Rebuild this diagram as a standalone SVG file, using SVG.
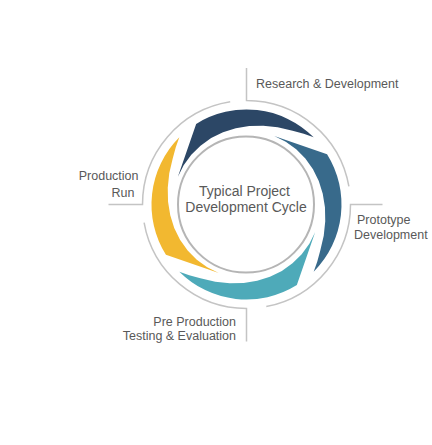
<svg xmlns="http://www.w3.org/2000/svg" xmlns:xlink="http://www.w3.org/1999/xlink" width="432" height="445" viewBox="0 0 432 445">
<style>
.lbl{font-family:"Liberation Sans",Arial,Helvetica,sans-serif;font-size:12.5px;fill:#595959}
.ctr{font-family:"Liberation Sans",Arial,Helvetica,sans-serif;font-size:14px;fill:#595959;text-anchor:middle}
.end{text-anchor:end}
.ring{fill:none;stroke:#c4c4c4;stroke-width:1.5}
</style>
<defs>
<path id="blade" d="M74,0 L72.98,12.87 L69.82,25.41 L64.69,37.35 L57.68,48.4 L48.85,58.22 L38.5,66.68 L26.85,73.77 L13.98,79.28 L0,83.3 L-15.11,85.68 L-26.61,87.02 L-37.12,87.45 A95 95 0 0 0 76.86,55.84 Z"/>
</defs>
<rect width="432" height="445" fill="#ffffff"/>
<g id="connectors">
<path class="ring" d="M246.5,68 V100.5 A104 104 0 0 1 348.9,186.4"/>
<path class="ring" d="M382.5,204.5 H350.5 A104 104 0 0 1 266.3,306.6"/>
<path class="ring" d="M246.5,341.5 V308.5 A104 104 0 0 1 144.1,222.6"/>
<path class="ring" d="M108.5,204.5 H142.5 A104 104 0 0 1 230.2,101.8"/>
</g>
<g id="research-development">
<use xlink:href="#blade" fill="#2c4766" transform="translate(246.5,204.5) rotate(202)"/>
<text class="lbl" x="256" y="87.5">Research &amp; Development</text>
</g>
<g id="prototype-development">
<use xlink:href="#blade" fill="#386a8b" transform="translate(246.5,204.5) rotate(292)"/>
<text class="lbl" x="357" y="224">Prototype</text>
<text class="lbl" x="354" y="238.5">Development</text>
</g>
<g id="pre-production-testing">
<use xlink:href="#blade" fill="#4eaab9" transform="translate(246.5,204.5) rotate(22)"/>
<text class="lbl end" x="236" y="325.7">Pre Production</text>
<text class="lbl end" x="236" y="340">Testing &amp; Evaluation</text>
</g>
<g id="production-run">
<use xlink:href="#blade" fill="#f2b830" transform="translate(246.5,204.5) rotate(112)"/>
<text class="lbl end" x="138.5" y="180">Production</text>
<text class="lbl end" x="134.5" y="196.5">Run</text>
</g>
<g id="center">
<circle cx="246" cy="204.5" r="68" fill="#ffffff" stroke="#b5b5b5" stroke-width="2"/>
<text class="ctr" x="244.5" y="196">Typical Project</text>
<text class="ctr" x="246" y="212">Development Cycle</text>
</g>
</svg>
